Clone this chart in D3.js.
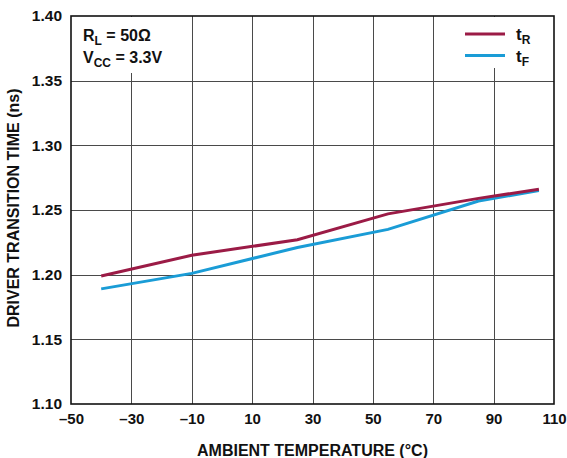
<!DOCTYPE html>
<html>
<head>
<meta charset="utf-8">
<script src="https://cdn.jsdelivr.net/npm/d3@7"></script>
<style>
  html, body { margin: 0; padding: 0; background: #fff; }
  svg { display: block; font-family: "Liberation Sans", Arial, sans-serif; font-weight: bold; }
</style>
</head>
<body>
<svg id="chart" width="567" height="458"></svg>
<script>
// Driver transition time vs ambient temperature
const temps = [-40, -10, 25, 55, 85, 105];
const riseTime = [1.199, 1.215, 1.227, 1.247, 1.259, 1.266];
const fallTime = [1.189, 1.201, 1.221, 1.235, 1.257, 1.265];
const xTicks = [-50, -30, -10, 10, 30, 50, 70, 90, 110];
const yTicks = [1.10, 1.15, 1.20, 1.25, 1.30, 1.35, 1.40];

const svg = d3.select("#chart");
const plotLeft = 71, plotRight = 554, plotTop = 16, plotBottom = 404;

const x = d3.scaleLinear().domain([-50, 110]).range([plotLeft, plotRight]);
const y = d3.scaleLinear().domain([1.10, 1.40]).range([plotBottom, plotTop]);

// grid
const grid = svg.append("g").attr("stroke", "#4a4a4a").attr("stroke-width", 1);
xTicks.slice(1, -1).forEach(t => {
  grid.append("line").attr("x1", Math.round(x(t)) + 0.5).attr("x2", Math.round(x(t)) + 0.5)
    .attr("y1", plotTop).attr("y2", plotBottom);
});
yTicks.slice(1, -1).forEach(t => {
  grid.append("line").attr("y1", Math.round(y(t)) + 0.5).attr("y2", Math.round(y(t)) + 0.5)
    .attr("x1", plotLeft).attr("x2", plotRight);
});

// white boxes behind the annotation and legend
svg.append("rect").attr("x", 78).attr("y", plotTop + 1).attr("width", 95).attr("height", 56).attr("fill", "#fff");
svg.append("rect").attr("x", 458).attr("y", plotTop + 1).attr("width", 90).attr("height", 51).attr("fill", "#fff");

// frame
svg.append("rect").attr("x", plotLeft).attr("y", plotTop)
  .attr("width", plotRight - plotLeft).attr("height", plotBottom - plotTop)
  .attr("fill", "none").attr("stroke", "#111").attr("stroke-width", 1.6);

// axes
const xAxis = d3.axisBottom(x).tickValues(xTicks).tickSize(0).tickPadding(9)
  .tickFormat(d => d < 0 ? "\u2013" + Math.abs(d) : d);
const gx = svg.append("g").attr("transform", `translate(0,${plotBottom})`).call(xAxis);
gx.select(".domain").remove();
gx.selectAll("text").attr("font-size", 15).attr("font-weight", "bold").attr("fill", "#111")
  .attr("font-family", "Liberation Sans, Arial, sans-serif");

const yAxis = d3.axisLeft(y).tickValues(yTicks).tickSize(0).tickPadding(9).tickFormat(d3.format(".2f"));
const gy = svg.append("g").attr("transform", `translate(${plotLeft},0)`).call(yAxis);
gy.select(".domain").remove();
gy.selectAll("text").attr("font-size", 15.5).attr("font-weight", "bold").attr("fill", "#111")
  .attr("font-family", "Liberation Sans, Arial, sans-serif");

// axis titles
svg.append("text").attr("x", (plotLeft + plotRight) / 2).attr("y", 456).attr("text-anchor", "middle")
  .attr("font-size", 16).attr("fill", "#111").text("AMBIENT TEMPERATURE (°C)");
svg.append("text").attr("transform", `translate(19,208) rotate(-90)`)
  .attr("text-anchor", "middle").attr("font-size", 16).attr("fill", "#111")
  .text("DRIVER TRANSITION TIME (ns)");

// series
const line = d3.line().x((d, i) => x(temps[i])).y(d => y(d));
svg.append("path").datum(fallTime).attr("d", line).attr("fill", "none")
  .attr("stroke", "#1a9cd6").attr("stroke-width", 3);
svg.append("path").datum(riseTime).attr("d", line).attr("fill", "none")
  .attr("stroke", "#9b1b46").attr("stroke-width", 3);

// annotation
const ann = svg.append("text").attr("x", 83).attr("y", 41).attr("font-size", 16).attr("fill", "#111");
ann.append("tspan").text("R");
ann.append("tspan").attr("font-size", 12).attr("dy", 4).text("L");
ann.append("tspan").attr("dy", -4).text(" = 50Ω");
const ann2 = svg.append("text").attr("x", 83).attr("y", 63).attr("font-size", 16).attr("fill", "#111");
ann2.append("tspan").text("V");
ann2.append("tspan").attr("font-size", 12).attr("dy", 4).text("CC");
ann2.append("tspan").attr("dy", -4).text(" = 3.3V");

// legend
const legend = [
  { sub: "R", color: "#9b1b46", yy: 34 },
  { sub: "F", color: "#1a9cd6", yy: 55.5 }
];
legend.forEach(l => {
  svg.append("line").attr("x1", 465).attr("x2", 505).attr("y1", l.yy).attr("y2", l.yy)
    .attr("stroke", l.color).attr("stroke-width", 3);
  const t = svg.append("text").attr("x", 516).attr("y", l.yy + 6).attr("font-size", 17).attr("fill", "#111");
  t.append("tspan").text("t");
  t.append("tspan").attr("font-size", 12).attr("dy", 4).text(l.sub);
});
</script>
</body>
</html>
